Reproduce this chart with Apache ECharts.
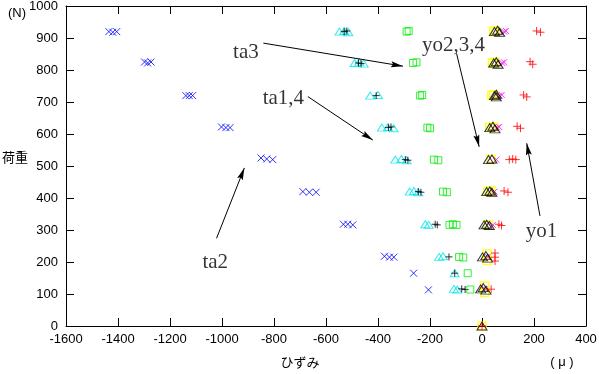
<!DOCTYPE html>
<html><head><meta charset="utf-8">
<script src="https://cdn.jsdelivr.net/npm/echarts@6/dist/echarts.min.js"></script>
<style>html,body{margin:0;padding:0;background:#fff}#c{width:599px;height:374px}</style>
</head><body><div id="c"></div>
<script>
// ---- data (strain µ, load N) ----
const ta2Blue = [[-1435,920],[-1420,918],[-1405,920],[-1298,825],[-1286,822],[-1273,825],
  [-1139,720],[-1126,720],[-1113,720],[-1002,622],[-985,620],[-969,620],
  [-850,525],[-828,522],[-805,520],[-689,420],[-664,418],[-638,418],
  [-533,318],[-516,318],[-497,316],[-375,218],[-356,215],[-339,215],[-263,165],[-206,113]];
const ta1Cyan = [[-548,920],[-530,922],[-514,918],[-490,822],[-472,824],[-455,820],
  [-430,720],[-400,722],[-385,620],[-362,622],[-340,618],[-333,520],[-310,522],[-290,518],
  [-278,420],[-262,422],[-245,418],[-218,318],[-205,316],[-165,216],[-150,218],[-105,165],
  [-108,116],[-95,114]];
const ta4Black = [[-530,920],[-520,922],[-475,822],[-465,820],[-407,720],[-360,620],[-350,622],
  [-295,520],[-285,518],[-245,420],[-235,418],[-180,318],[-172,316],[-127,216],[-105,165],
  [-78,116],[-65,114]];
const ta3Green = [[-290,920],[-282,922],[-265,822],[-252,824],[-238,720],[-230,722],
  [-210,620],[-200,618],[-185,520],[-168,518],[-150,420],[-135,418],[-125,316],[-112,318],
  [-98,316],[-88,216],[-72,214],[-55,165],[-45,114]];
const yoYellow = [[45,920],[52,922],[40,822],[50,824],[38,720],[45,722],[30,620],[45,622],
  [35,520],[22,420],[35,422],[25,316],[20,225],[20,205],[10,125],[10,105],[0,0]];
const yoMagenta = [[85,920],[92,922],[78,822],[85,824],[68,720],[76,722],[58,620],[66,622],
  [55,520],[48,420],[42,316],[22,216],[10,116]];
const yoBlackTri = [[48,920],[60,924],[68,918],[45,822],[55,826],[62,818],[48,720],[55,724],[55,716],
  [30,620],[42,624],[50,616],[25,520],[38,522],[18,420],[30,422],[38,418],[8,316],[18,318],[28,314],
  [2,216],[15,220],[22,212],[-5,116],[5,120],[15,112],[0,0]];
const yo1Red = [[210,922],[225,918],[185,826],[195,818],[160,722],[172,716],[135,624],[148,618],
  [105,520],[118,522],[130,520],[85,422],[100,418],[65,318],[75,314],[50,228],[50,215],[50,203],
  [35,115],[0,0]];

// annotations: label text and anchor (data coords)
const annotationLabels = [['ta3',-908,856],['ta1,4',-764,712],['ta2',-1026,198],['yo2,3,4',-110,878],['yo1',229,294]];
const annotationArrows = [[-841,884,-304,812],[-670,717,-420,581],[-1021,274,-914,494],[-98,852,-11,560],[223,344,172,571]];

const xMin=-1600, xMax=400, xStep=200, yMin=0, yMax=1000, yStep=100;

const CROSS='path://M0,0L10,10M10,0L0,10';
const PLUS='path://M5,0L5,10M0,5L10,5';
const ARROW='path://M0,0M24,24M12,12L15,24L12,22L9,24Z';

function sc(data, symbol, size, color, bw){
  return {type:'scatter', data:data, symbol:symbol, symbolSize:size, clip:false, silent:true,
    itemStyle:{color:'transparent', borderColor:color, borderWidth:bw||1}};
}

const chart = echarts.init(document.getElementById('c'), null, {renderer:'canvas'});
const lblFont = {fontFamily:'Liberation Sans', fontSize:13, color:'#000', formatter:v=>String(v)};
chart.setOption({
  animation:false,
  backgroundColor:'#fff',
  grid:{left:66, right:13, top:6, bottom:48, outerBoundsMode:'none'},
  xAxis:[
    {type:'value', min:xMin, max:xMax, interval:xStep, position:'bottom',
     axisLine:{show:true, onZero:false, lineStyle:{color:'#000', width:1}},
     axisTick:{show:true, inside:true, length:8, lineStyle:{color:'#000'}},
     axisLabel:Object.assign({margin:7}, lblFont), splitLine:{show:false}},
    {type:'value', min:xMin, max:xMax, interval:xStep, position:'top',
     axisLine:{show:true, onZero:false, lineStyle:{color:'#000', width:1}},
     axisTick:{show:true, inside:true, length:8, lineStyle:{color:'#000'}},
     axisLabel:{show:false}, splitLine:{show:false}}
  ],
  yAxis:[
    {type:'value', min:yMin, max:yMax, interval:yStep, position:'left',
     axisLine:{show:true, onZero:false, lineStyle:{color:'#000', width:1}},
     axisTick:{show:true, inside:true, length:8, lineStyle:{color:'#000'}},
     axisLabel:Object.assign({margin:8}, lblFont), splitLine:{show:false}},
    {type:'value', min:yMin, max:yMax, interval:yStep, position:'right',
     axisLine:{show:true, onZero:false, lineStyle:{color:'#000', width:1}},
     axisTick:{show:true, inside:true, length:8, lineStyle:{color:'#000'}},
     axisLabel:{show:false}, splitLine:{show:false}}
  ],
  graphic:[
    {type:'text', left:8, top:7, style:{text:'(N)', font:'13px "Liberation Sans"', fill:'#000'}},
    {type:'text', x:15, y:157, style:{text:'荷重', font:'13px "Noto Sans CJK JP"', fill:'#000', align:'center', verticalAlign:'middle'}},
    {type:'text', x:300, y:362, style:{text:'ひずみ', font:'13px "Noto Sans CJK JP"', fill:'#000', align:'center', verticalAlign:'middle'}},
    {type:'text', x:562, y:362, style:{text:'( μ )', font:'13px "Liberation Sans"', fill:'#000', align:'center', verticalAlign:'middle'}}
  ],
  series:[
    sc(ta2Blue, CROSS, 7, '#0000ff'),
    sc(ta1Cyan, 'triangle', [9,7], '#00e5ee'),
    sc(ta4Black, PLUS, 7, '#000'),
    sc(ta3Green, 'rect', 7, '#00ee00'),
    sc(yoYellow, 'rect', 8, '#ffff00', 1.5),
    sc(yoMagenta, CROSS, 6, '#ff00ff'),
    sc(yoBlackTri, 'triangle', [10,8], '#000'),
    sc(yo1Red, PLUS, 8, '#ff0000'),
    {type:'scatter', silent:true, symbolSize:0, clip:false,
     data:annotationLabels.map(a=>({name:a[0], value:[a[1],a[2]]})),
     label:{show:true, position:'inside', formatter:p=>p.name,
            fontFamily:'Liberation Serif', fontSize:21, color:'#000'},
     markLine:{silent:true, animation:false, symbol:['none', ARROW], symbolSize:24,
       label:{show:false}, emphasis:{disabled:true},
       lineStyle:{color:'#000', width:1, type:'solid'},
       itemStyle:{color:'#000'},
       data:annotationArrows.map(a=>[{coord:[a[0],a[1]]},{coord:[a[2],a[3]]}])}}
  ]
});
</script></body></html>
